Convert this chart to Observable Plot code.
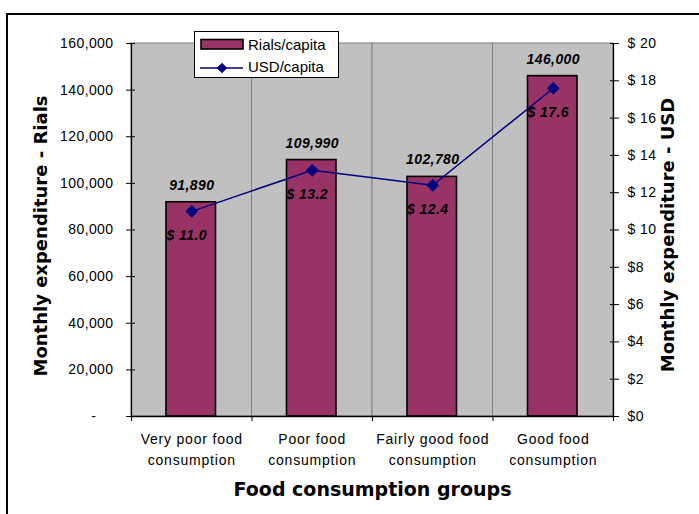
<!DOCTYPE html>
<html>
<head>
<meta charset="utf-8">
<script src="https://cdn.jsdelivr.net/npm/d3@7"></script>
<script src="https://cdn.jsdelivr.net/npm/@observablehq/plot@0.6"></script>
<style>
  html, body { margin: 0; padding: 0; background: #fff; }
  #wrap { position: relative; width: 699px; height: 514px; overflow: hidden; background: #fff; }
  #border { position: absolute; left: 6px; top: 13px; width: 900px; height: 700px; border-left: 2px solid #000; border-top: 2px solid #000; box-sizing: border-box; }
  #chart { position: absolute; left: 0; top: 0; }
  #legend { position: absolute; left: 194px; top: 31px; }
</style>
</head>
<body>
<div id="wrap">
  <div id="border"></div>
  <div id="chart"></div>
  <div id="legend"></div>
</div>
<script>
// ---- data ----
const categories = ["Very poor food\nconsumption", "Poor food\nconsumption", "Fairly good food\nconsumption", "Good food\nconsumption"];
const rials = [91890, 109990, 102780, 146000];
const usd = [11.0, 13.2, 12.4, 17.6];
const rialTicks = [0, 20000, 40000, 60000, 80000, 100000, 120000, 140000, 160000];
const usdTicks = [0, 2, 4, 6, 8, 10, 12, 14, 16, 18, 20];
const seriesNames = ["Rials/capita", "USD/capita"];
const titles = { yLeft: "Monthly expenditure - Rials", yRight: "Monthly expenditure - USD", x: "Food consumption groups" };

const rialMax = rialTicks[rialTicks.length - 1];
const usdMax = usdTicks[usdTicks.length - 1];
const k = rialMax / usdMax; // maps USD onto the Rials axis

const rows = categories.map((cat, i) => ({ cat, i, rials: rials[i], usd: usd[i], usdR: usd[i] * k }));

const BAR = "#993366", NAVY = "#000080", BG = "#C0C0C0", GRID = "#808080";
const titleFont = "DejaVu Sans, Verdana, sans-serif";

const chart = Plot.plot({
  width: 699,
  height: 514,
  marginLeft: 131,
  marginRight: 86,
  marginTop: 43,
  marginBottom: 98,
  style: { fontFamily: "Arial, 'Liberation Sans', sans-serif", fontSize: "14px", color: "#000", letterSpacing: "0.4px", background: "transparent" },
  x: { domain: [0, categories.length] },
  y: { domain: [0, rialMax] },
  marks: [
    // background bands with grey gridlines
    Plot.rect(rows, { x1: d => d.i, x2: d => d.i + 1, y1: 0, y2: rialMax, fill: BG, stroke: GRID, strokeWidth: 1 }),
    // bars
    Plot.rectY(rows, { x1: d => d.i, x2: d => d.i + 1, y: "rials", insetLeft: 35, insetRight: 36, fill: BAR, stroke: "#000", strokeWidth: 1.6 }),
    // axis lines
    Plot.ruleX([0, categories.length], { stroke: "#000", strokeWidth: 1.3 }),
    Plot.ruleY([0], { stroke: "#000", strokeWidth: 1.3 }),
    // USD line
    Plot.line(rows, { x: d => d.i + 0.5, y: "usdR", stroke: NAVY, strokeWidth: 1.5 }),
    Plot.dot(rows, { x: d => d.i + 0.5, y: "usdR", symbol: "diamond2", r: 4.8, fill: NAVY, stroke: NAVY }),
    // value labels
    Plot.text(rows, { x: d => d.i + 0.5, y: "rials", text: d => d3.format(",")(d.rials), dy: -17, fontWeight: "bold", fontStyle: "italic", fontSize: 14, fill: "#000" }),
    Plot.text(rows, { x: d => d.i + 0.5, y: "usdR", text: d => "$ " + d.usd.toFixed(1), dx: -5, dy: 24, fontWeight: "bold", fontStyle: "italic", fontSize: 14, fill: "#000" }),
    // left axis
    Plot.axisY({ anchor: "left", ticks: rialTicks, tickFormat: d => d === 0 ? "-\u00a0\u00a0\u00a0\u00a0" : d3.format(",")(d), tickSize: 9, dx: 4, tickPadding: 13, label: null, stroke: "#000" }),
    // right axis (USD)
    Plot.axisY({ anchor: "right", ticks: usdTicks.map(v => v * k), tickFormat: d => { const v = d / k; return v >= 10 ? "$ " + v : "$" + v; }, tickSize: 9, dx: -4, tickPadding: 9, textAnchor: "start", label: null, stroke: "#000" }),
    // bottom ticks
    Plot.axisX({ ticks: d3.range(categories.length + 1), tickFormat: () => "", tickSize: 5, label: null, stroke: "#000" }),
    // category labels
    Plot.text(rows, { x: d => d.i + 0.5, text: "cat", frameAnchor: "bottom", dy: 13, lineAnchor: "top", lineHeight: 1.5, fontSize: 14, fill: "#000" }),
    // titles
    Plot.text([titles.yLeft], { frameAnchor: "left", textAnchor: "middle", lineAnchor: "middle", dx: -90, dy: 6, rotate: -90, fontWeight: "bold", fontSize: 18, fontFamily: titleFont, fill: "#000" }),
    Plot.text([titles.yRight], { frameAnchor: "right", textAnchor: "middle", lineAnchor: "middle", dx: 55, dy: 5, rotate: -90, fontWeight: "bold", fontSize: 18, fontFamily: titleFont, fill: "#000" }),
    Plot.text([titles.x], { frameAnchor: "bottom", textAnchor: "middle", lineAnchor: "middle", dy: 73, fontWeight: "bold", fontSize: 19, fontFamily: titleFont, fill: "#000" })
  ]
});
chart.querySelectorAll("text").forEach(t => {
  if (Object.values(titles).includes(t.textContent)) t.style.letterSpacing = "0px";
  if (t.querySelector("tspan")) t.style.letterSpacing = "0.8px";
});
document.getElementById("chart").appendChild(chart);

// ---- legend (HTML/SVG overlay) ----
const leg = d3.select("#legend").append("svg").attr("width", 146).attr("height", 48)
  .style("font-family", "Arial, 'Liberation Sans', sans-serif").style("font-size", "15px");
leg.append("rect").attr("x", 0.5).attr("y", 0.5).attr("width", 144).attr("height", 46).attr("fill", "#fff").attr("stroke", "#000");
leg.append("rect").attr("x", 7).attr("y", 8.5).attr("width", 42).attr("height", 9.5).attr("fill", BAR).attr("stroke", "#000").attr("stroke-width", 1.6);
leg.append("text").attr("x", 54).attr("y", 14).attr("dy", "0.35em").text(seriesNames[0]);
leg.append("line").attr("x1", 6).attr("x2", 49).attr("y1", 37).attr("y2", 37).attr("stroke", NAVY).attr("stroke-width", 1.5);
leg.append("path").attr("d", d3.symbol(d3.symbolDiamond2, 72)()).attr("transform", "translate(28,37)").attr("fill", NAVY);
leg.append("text").attr("x", 54).attr("y", 36).attr("dy", "0.35em").text(seriesNames[1]);
</script>
</body>
</html>
